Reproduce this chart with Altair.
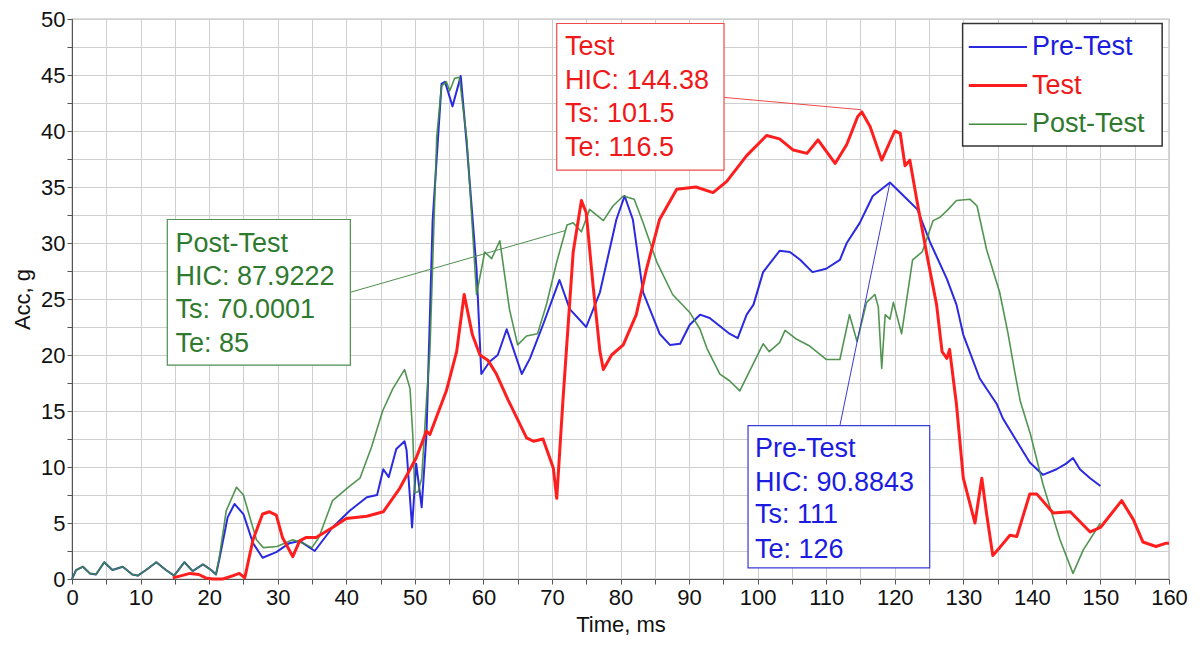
import altair as alt
import pandas as pd

# ---------------- data ----------------
base_t = [0, 0.6, 1.6, 2.6, 3.5, 4.7, 5.9, 7.4, 8.8, 9.6, 10.8, 12.3, 13.7, 14.9, 16.4, 17.6, 19.1, 20.3, 21]
base_v = [0, 0.8, 1.1, 0.5, 0.4, 1.5, 0.8, 1.1, 0.4, 0.3, 0.8, 1.5, 0.8, 0.3, 1.5, 0.7, 1.3, 0.8, 0.4]

pre_t = base_t + [21.5, 22.7, 23.7, 25, 26.4, 27.8, 29.8, 31.7, 33.2, 35.4, 38, 40.5, 43, 44.5, 45.4, 46.2,
                  47.3, 48.5, 48.8, 49.6, 50.2, 51, 51.7, 52.6, 53.9, 54.4, 55.5, 56.7, 57.6, 59, 59.7, 60.9,
                  62.1, 63.4, 65.6, 66.8, 68.7, 71.1, 72.6, 75, 77, 79.4, 80.6, 81.8, 83.3, 85.7, 87.2, 88.7,
                  90.1, 91.6, 93, 95.9, 97.1, 98.4, 99.4, 100.8, 103.2, 104.7, 106.2, 108, 110, 112, 113,
                  114.9, 116.8, 119.3, 121.8, 123.3, 125.2, 127.6, 129, 130, 132.4, 134.9, 135.8, 137.8,
                  139.7, 141.6, 143.6, 145, 146, 147, 148.5, 150]
pre_v = base_v + [1.8, 5.5, 6.7, 5.8, 3.2, 1.9, 2.4, 3.2, 3.4, 2.5, 4.6, 6.1, 7.3, 7.5, 9.8, 9.1,
                  11.6, 12.3, 11.5, 4.6, 10.3, 6.4, 12.9, 32, 44.2, 44.4, 42.2, 44.9, 38.6, 27.7, 18.3, 19.4,
                  20, 22.3, 18.3, 19.7, 22.7, 26.7, 24.1, 22.5, 25.6, 32.1, 34.2, 32.1, 25.6, 21.9, 20.9, 21,
                  22.7, 23.6, 23.3, 21.9, 21.5, 23.6, 24.5, 27.4, 29.3, 29.2, 28.5, 27.4, 27.7, 28.5, 30,
                  31.8, 34.2, 35.4, 33.9, 33, 30, 26.8, 24.5, 21.8, 17.9, 15.6, 14.3, 12.3,
                  10.4, 9.3, 9.8, 10.3, 10.8, 9.8, 9.0, 8.3]

post_t = base_t + [21.5, 22.5, 24, 25, 26.9, 27.9, 29.9, 32.2, 33.7, 35, 36, 38, 40.5, 42, 43.7, 45.3,
                   46.8, 48.5, 49.3, 49.7, 50, 50.5, 51, 51.7, 52.2, 53.2, 53.9, 54.6, 55.1, 55.8, 56.5,
                   57.6, 59, 60.2, 61.2, 62.4, 63.8, 65, 66.3, 67.9, 69.2, 70.7, 72.2, 73.1, 74.3, 75.5,
                   77.5, 78.9, 80.4, 82, 83.3, 85.3, 87.6, 90.1, 91.6, 92.6, 94.5, 95.9, 97.4, 100.8, 101.7,
                   103.2, 104, 105.7, 107.6, 110, 112, 113.4, 114.5, 115.9, 117.1, 117.6, 118.1, 118.6,
                   119.3, 119.8, 121, 122.6, 124, 125.6, 126.6, 127.8, 129, 131, 132, 133.4, 135.3, 136.5,
                   137.5, 138.3, 139.8, 141.6, 144.1, 146, 147.5, 150]
post_v = base_v + [2, 6.1, 8.2, 7.5, 3.5, 2.8, 2.9, 3.5, 3.2, 2.8, 3.7, 7, 8.3, 9, 11.8, 15,
                   17, 18.7, 17, 12.9, 7.7, 7.8, 9, 15.9, 20.3, 39.5, 44, 44.4, 43.6, 44.7, 44.8,
                   39.2, 25.4, 29.2, 28.6, 30.2, 24.1, 20.9, 21.7, 21.9, 24.5, 28.3, 31.6, 31.8, 31, 33,
                   32, 33.3, 34.2, 33.9, 31.8, 28.3, 25.4, 23.8, 22.3, 20.6, 18.3, 17.7, 16.8, 21, 20.3,
                   21.1, 22.2, 21.4, 20.8, 19.6, 19.6, 23.6, 21.2, 24.7, 25.4, 24.3, 18.8, 23.6,
                   23.2, 24.7, 21.9, 28.5, 29.2, 32, 32.3, 33, 33.8, 33.9, 33.3, 29.4, 25.6, 22,
                   18.5, 15.9, 12.9, 8.5, 3.5, 0.5, 2.6, 5.0]

test_t = [14.7, 16, 17.2, 18.5, 19.5, 20.5, 22, 23.5, 24.4, 25.2, 26.4, 27.8, 28.8, 29.8, 30.7, 32.2, 33.2,
          34.1, 35.6, 38, 40, 43, 45.4, 47.8, 50.2, 51.7, 52.2, 54.6, 56.1, 57.2, 58.4, 59.5, 60.7, 61.9,
          63.6, 66.3, 67.3, 68.7, 70.2, 70.7, 71.6, 73.1, 74.3, 75, 76, 77, 77.5, 78.7, 80.4, 82.3, 83.8,
          85.7, 88.2, 91, 93.5, 95.5, 98.4, 101.3, 103.2, 105.2, 107.2, 108.8, 111.3, 113, 114.6, 115.2,
          116.4, 118.1, 120, 120.8, 121.5, 122.2, 123.2, 124.7, 126.1, 126.9, 127.6, 128, 129, 130, 131.7,
          132.7, 133.4, 134.3, 135.3, 136.8, 137.8, 139.7, 140.7, 143.1, 145.6, 148.5, 150, 153.1, 154.8,
          156.2, 158.1, 159.6, 160]
test_v = [0.1, 0.3, 0.5, 0.4, 0.1, 0, 0, 0.3, 0.5, 0.1, 3.5, 5.8, 6.0, 5.7, 3.7, 2, 3.4,
          3.7, 3.7, 4.6, 5.4, 5.6, 6, 8.1, 10.8, 13.2, 12.9, 16.8, 20.3, 25.4, 21.8, 20, 19.5, 18.3,
          16, 12.6, 12.3, 12.5, 9.9, 7.2, 15.9, 29.2, 33.8, 32.7, 26.2, 20.3, 18.7, 20, 20.9, 23.6, 27.7,
          32.1, 34.8, 35, 34.5, 35.5, 37.8, 39.6, 39.3, 38.3, 38, 39.2, 37.1, 38.8, 41.3, 41.7,
          40.4, 37.4, 40, 39.8, 36.9, 37.4, 33.9, 28.9, 24.5, 20.3, 19.7, 20.5, 15.6, 9.0, 5.0,
          9.0, 5.8, 2.1, 2.8, 3.9, 3.8, 7.6, 7.6, 5.9, 6.0, 4.2, 4.6, 7.0, 5.3,
          3.3, 2.9, 3.2, 3.2]

series_names = ["Pre-Test", "Test", "Post-Test"]
hic_values = ["90.8843", "144.38", "87.9222"]
ts_values = ["111", "101.5", "70.0001"]
te_values = ["126", "116.5", "85"]

# ---------------- styles ----------------
line_colors = {"Pre-Test": "#2a2ae0", "Test": "#ff1e1e", "Post-Test": "#3f8a3f"}
text_colors = {"Pre-Test": "#1c1ce0", "Test": "#f01818", "Post-Test": "#2f7a2f"}
box_colors = {"Pre-Test": "#3a3ad8", "Test": "#ee4a4a", "Post-Test": "#4f8f4f"}
line_widths = {"Pre-Test": 2, "Test": 3, "Post-Test": 1.6}
FONT = "Liberation Sans"

df = pd.concat([
    pd.DataFrame({"t": pre_t, "v": pre_v, "s": "Pre-Test"}),
    pd.DataFrame({"t": post_t, "v": post_v, "s": "Post-Test"}),
    pd.DataFrame({"t": test_t, "v": test_v, "s": "Test"}),
], ignore_index=True)

xs = alt.Scale(domain=[0, 160], nice=False, zero=False)
ys = alt.Scale(domain=[0, 50], nice=False, zero=False)

x_axis = alt.Axis(values=[i * 5 for i in range(33)],
                  labelExpr="datum.value % 10 == 0 ? datum.label : ''",
                  title="Time, ms", grid=True, gridColor="#cfcfcf", gridWidth=1,
                  domainColor="#555", tickColor="#555", tickSize=5,
                  labelFont=FONT, labelFontSize=22, labelColor="#111", labelPadding=3,
                  titleFont=FONT, titleFontSize=22, titleFontWeight="normal", titleColor="#111",
                  titlePadding=6, labelFlush=False, labelOverlap=False)
y_axis = alt.Axis(values=[i * 2.5 for i in range(21)],
                  labelExpr="datum.value % 5 == 0 ? datum.label : ''",
                  title="Acc, g", grid=True, gridColor="#cfcfcf", gridWidth=1,
                  domainColor="#555", tickColor="#555", tickSize=5,
                  labelFont=FONT, labelFontSize=22, labelColor="#111", labelPadding=2,
                  titleFont=FONT, titleFontSize=22, titleFontWeight="normal", titleColor="#111",
                  titlePadding=6, labelFlush=False, labelOverlap=False)


def X(f):
    return alt.X(f, type="quantitative", scale=xs, axis=x_axis)


def Y(f):
    return alt.Y(f, type="quantitative", scale=ys, axis=y_axis)


layers = []
for name in ["Pre-Test", "Post-Test", "Test"]:
    layers.append(
        alt.Chart(df).transform_filter(alt.datum.s == name)
        .mark_line(color=line_colors[name], strokeWidth=line_widths[name],
                   opacity=0.9 if name == "Post-Test" else 1, strokeJoin="round")
        .encode(x=X("t"), y=Y("v"))
    )

# ---------------- annotation layout (data coordinates) ----------------
boxes = pd.DataFrame({
    "s": ["Test", "Post-Test", "Pre-Test"],
    "x1": [70.7, 13.9, 98.6], "x2": [95.1, 40.6, 125.1],
    "y1": [36.5, 19.1, 1.0], "y2": [49.6, 32.1, 13.7],
})
callouts = pd.DataFrame({
    "s": ["Test", "Post-Test", "Pre-Test"],
    "x1": [95.1, 40.6, 112.0], "y1": [43.0, 25.6, 13.7],
    "x2": [115.1, 71.9, 119.3], "y2": [41.9, 31.1, 35.4],
})
text_x = {"Test": 71.9, "Post-Test": 15.1, "Pre-Test": 99.6}
text_y = {"Test": [47.5, 44.5, 41.5, 38.5], "Post-Test": [29.9, 27.0, 24.0, 21.0],
          "Pre-Test": [11.6, 8.6, 5.7, 2.6]}
rows = []
for i, name in enumerate(series_names):
    lines = [name, f"HIC: {hic_values[i]}", f"Ts: {ts_values[i]}", f"Te: {te_values[i]}"]
    for ln, yy in zip(lines, text_y[name]):
        rows.append({"s": name, "x": text_x[name], "y": yy, "txt": ln})
texts = pd.DataFrame(rows)

for name in ["Test", "Post-Test", "Pre-Test"]:
    c = callouts[callouts.s == name]
    layers.append(alt.Chart(c).mark_rule(color=box_colors[name], strokeWidth=1)
                  .encode(x=X("x1"), y=Y("y1"), x2="x2", y2="y2"))
for name in ["Test", "Post-Test", "Pre-Test"]:
    b = boxes[boxes.s == name]
    layers.append(alt.Chart(b).mark_rect(fill="white", stroke=box_colors[name], strokeWidth=1.2)
                  .encode(x=X("x1"), x2="x2", y=Y("y1"), y2="y2"))
    t = texts[texts.s == name]
    layers.append(alt.Chart(t).mark_text(align="left", baseline="middle", font=FONT, fontSize=27,
                                         color=text_colors[name])
                  .encode(x=X("x"), y=Y("y"), text="txt:N"))

# ---------------- legend (drawn inside the plot, top right) ----------------
leg_box = pd.DataFrame({"x1": [129.9], "x2": [159.0], "y1": [38.65], "y2": [49.6]})
layers.append(alt.Chart(leg_box).mark_rect(fill="white", stroke="#333", strokeWidth=1.5)
              .encode(x=X("x1"), x2="x2", y=Y("y1"), y2="y2"))
leg_y = {"Pre-Test": 47.5, "Test": 44.06, "Post-Test": 40.6}
for name in series_names:
    ld = pd.DataFrame({"x1": [130.8], "x2": [139.3], "y": [leg_y[name]], "tx": [140.0], "txt": [name]})
    layers.append(alt.Chart(ld).mark_rule(color=line_colors[name], strokeWidth=line_widths[name])
                  .encode(x=X("x1"), x2="x2", y=Y("y")))
    layers.append(alt.Chart(ld).mark_text(align="left", baseline="middle", font=FONT, fontSize=27,
                                          color=text_colors[name])
                  .encode(x=X("tx"), y=Y("y"), text="txt:N"))

chart = alt.layer(*layers).properties(
    width=1097, height=560,
    autosize=alt.AutoSizeParams(type="none"),
    padding={"left": 64, "top": 11, "right": 20, "bottom": 60},
).configure_view(stroke="#777", strokeWidth=1.2)

chart.save("out.html", embed_options={"renderer": "svg", "actions": False})
